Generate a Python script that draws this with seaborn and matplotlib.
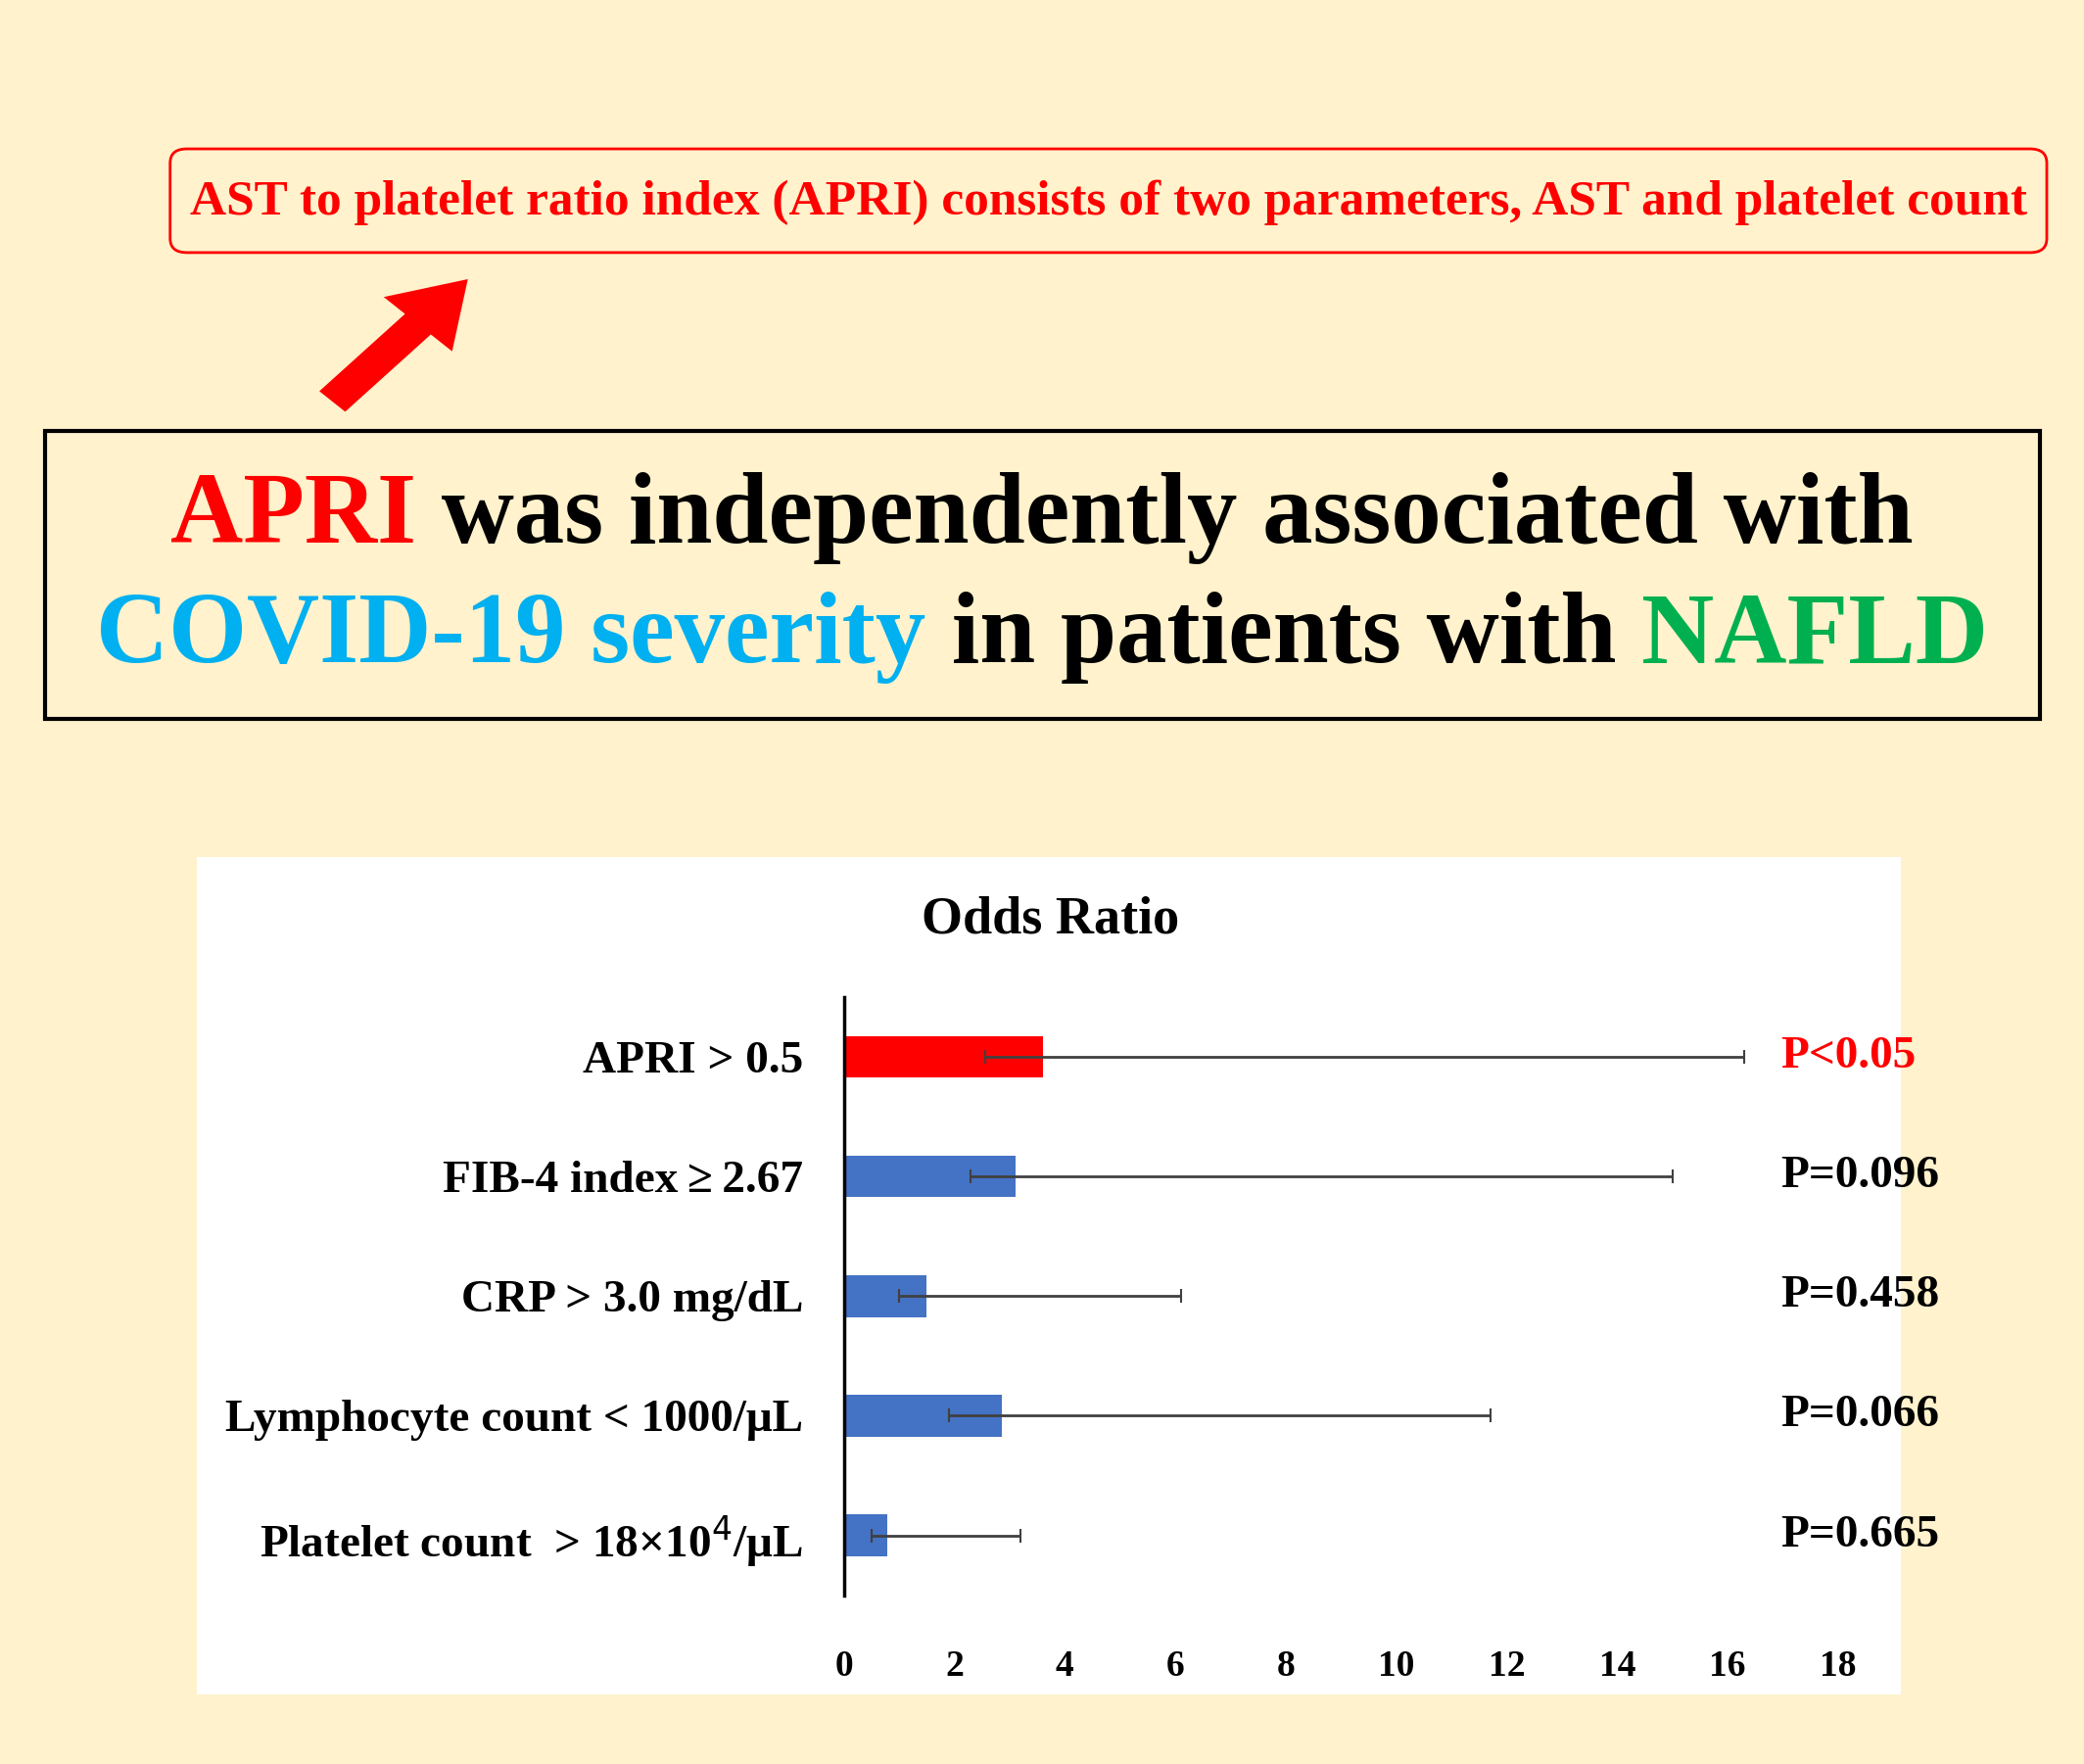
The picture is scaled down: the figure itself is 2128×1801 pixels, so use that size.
import matplotlib
matplotlib.use("Agg")
import matplotlib.pyplot as plt
import seaborn as sns
import pandas as pd
from matplotlib.patches import FancyBboxPatch, Rectangle, FancyArrow
from matplotlib.transforms import blended_transform_factory

categories = ["APRI > 0.5", "FIB-4 index\u2009\u2265\u20092.67", "CRP > 3.0 mg/dL",
              "Lymphocyte count < 1000/\u03bcL", "Platelet count  > 18\u00d710$^4$/\u03bcL"]
odds = [3.6, 3.1, 1.5, 2.85, 0.78]
ci_low = [2.55, 2.3, 1.0, 1.9, 0.5]
ci_high = [16.3, 15.0, 6.1, 11.7, 3.2]
pvals = ["P<0.05", "P=0.096", "P=0.458", "P=0.066", "P=0.665"]
bar_colors = ["#FF0000", "#4472C4", "#4472C4", "#4472C4", "#4472C4"]
xticks = [0, 2, 4, 6, 8, 10, 12, 14, 16, 18]

W, H = 1568, 1327
BG = "#FFF2CC"
SERIF = "Liberation Serif"
fig = plt.figure(figsize=(21.28, 18.01), dpi=100, facecolor=BG)

def fx(x): return x / W
def fy(y): return 1 - y / H

fig.patches.append(FancyBboxPatch((fx(128), fy(190)), fx(1540) - fx(128), fy(112) - fy(190),
                                  boxstyle="round,pad=0,rounding_size=0.008", transform=fig.transFigure,
                                  fc="none", ec="#FF0000", lw=2))
fig.text(fx(834), fy(152), "AST to platelet ratio index (APRI) consists of two parameters, AST and platelet count",
         ha="center", va="center", color="#FF0000", fontsize=37, fontweight="bold", family=SERIF)

fig.patches.append(FancyArrow(fx(250), fy(302), fx(352) - fx(250), fy(210) - fy(302),
                              width=0.017, head_width=0.045, head_length=0.035,
                              length_includes_head=True, transform=fig.transFigure,
                              color="#FF0000", ec="none"))

fig.patches.append(Rectangle((fx(34), fy(541)), fx(1535) - fx(34), fy(324) - fy(541),
                             transform=fig.transFigure, fc="none", ec="black", lw=3))

def colored_line(parts, y, size):
    r = fig.canvas.get_renderer()
    texts = [fig.text(0, y, s, color=c, fontsize=size, fontweight="bold", family=SERIF, va="center")
             for s, c in parts]
    widths = [t.get_window_extent(r).width / fig.bbox.width for t in texts]
    x = 0.5 - sum(widths) / 2
    for t, w in zip(texts, widths):
        t.set_x(x)
        x += w

colored_line([("APRI", "#FF0000"), (" was independently associated with", "black")], fy(390), 74)
colored_line([("COVID-19 severity", "#00B0F0"), (" in patients with ", "black"), ("NAFLD", "#00B050")], fy(480), 74)

fig.patches.append(Rectangle((fx(148), fy(1275)), fx(1430) - fx(148), fy(645) - fy(1275),
                             transform=fig.transFigure, fc="white", ec="none", zorder=-5))
fig.text(fx(790), fy(692), "Odds Ratio", ha="center", va="center", fontsize=39,
         fontweight="bold", family=SERIF)

ax = fig.add_axes([fx(635), fy(1200), fx(1383) - fx(635), fy(750) - fy(1200)])
ax.set_zorder(2)
ax.set_facecolor("none")
df = pd.DataFrame({"cat": categories, "odds": odds})
sns.barplot(data=df, x="odds", y="cat", hue="cat", palette=bar_colors, orient="h",
            width=0.35, legend=False, ax=ax, saturation=1)
for i in range(len(categories)):
    ax.errorbar(odds[i], i, xerr=[[odds[i] - ci_low[i]], [ci_high[i] - odds[i]]],
                fmt="none", ecolor="#404040", elinewidth=2, capsize=5, capthick=1.5)
ax.set_xlim(0, 18)
ax.set_ylim(4.5, -0.5)
ax.set_xticks(xticks)
ax.set_xticklabels([str(t) for t in xticks], fontsize=27, fontweight="bold", family=SERIF)
ax.tick_params(length=0, pad=40)
ax.tick_params(axis="y", pad=30)
for lab in ax.get_yticklabels():
    lab.set_fontsize(34); lab.set_fontweight("bold"); lab.set_family(SERIF)
ax.set_xlabel(""); ax.set_ylabel("")
for s in ["top", "right", "bottom"]:
    ax.spines[s].set_visible(False)
ax.spines["left"].set_linewidth(2.5)

tr = blended_transform_factory(fig.transFigure, ax.transData)
for i, p in enumerate(pvals):
    ax.text(fx(1340), i, p, transform=tr, ha="left", va="center", fontsize=34, fontweight="bold",
            family=SERIF, color="#FF0000" if i == 0 else "black")

fig.savefig("out.png", dpi=100, facecolor=BG)
